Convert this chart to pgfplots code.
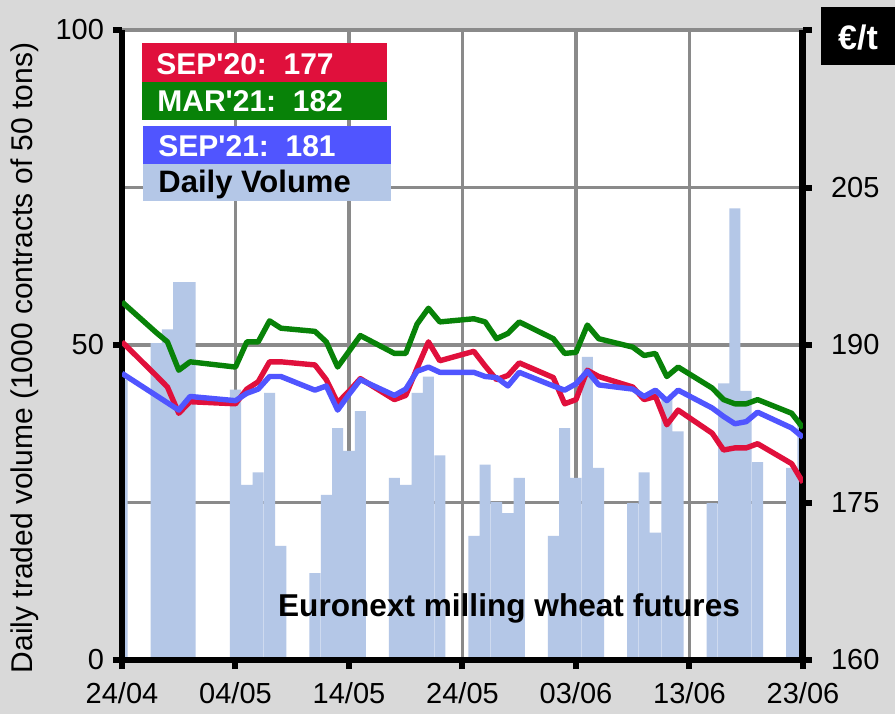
\documentclass[border=0pt]{standalone}
\usepackage{pgfplots}
\pgfplotsset{compat=1.18}
\usepackage{fontspec}
\setmainfont{Liberation Sans}
\definecolor{bg}{HTML}{D9D9D9}
\definecolor{gridgray}{HTML}{8A8A8A}
\definecolor{barblue}{HTML}{B4C7E7}
\definecolor{sred}{HTML}{E0103C}
\definecolor{sgreen}{HTML}{088208}
\definecolor{sblue}{HTML}{5055FF}

\pgfplotstableread{
d v
0 44.5
3 50.3
4 52.5
5 60.0
6 60.0
10 42.9
11 27.8
12 29.8
13 42.4
14 18.1
17 13.8
18 26.2
19 36.8
20 33.2
21 39.5
24 28.9
25 27.8
26 42.4
27 45.0
28 32.5
31 19.7
32 31.0
33 25.1
34 23.3
35 28.9
38 19.7
39 36.8
40 28.9
41 48.1
42 30.5
45 24.9
46 29.8
47 20.2
48 41.5
49 36.3
52 24.9
53 43.9
54 71.7
55 42.7
56 31.4
59 30.5
60 38.6
}\volume

\pgfplotstableread{
d red green blue
0 190.3 194.1 187.3
3 187.1 191.2 185.2
4 186.0 190.3 184.5
5 183.5 187.6 183.8
6 184.6 188.4 185.1
10 184.4 187.9 184.7
11 185.8 190.3 185.4
12 186.5 190.3 185.8
13 188.4 192.3 187.0
14 188.4 191.6 187.0
17 188.1 191.3 185.7
18 186.7 190.3 186.1
19 184.5 187.9 183.8
20 185.6 189.4 185.3
21 186.8 190.9 186.7
24 184.8 189.2 185.2
25 185.2 189.2 185.8
26 187.8 192.0 187.5
27 190.3 193.5 187.9
28 188.5 192.2 187.4
31 189.4 192.5 187.4
32 188.0 192.2 187.0
33 186.7 190.6 186.9
34 187.1 191.1 186.1
35 188.3 192.2 187.4
38 186.9 190.6 186.1
39 184.4 189.2 185.7
40 184.8 189.3 186.3
41 187.6 191.9 187.5
42 187.0 190.6 186.2
45 186.0 189.8 185.8
46 184.8 189.0 185.1
47 185.1 189.2 185.7
48 182.4 187.0 184.7
49 183.8 187.9 185.7
52 181.6 185.9 184.0
53 180.0 184.8 183.2
54 180.2 184.4 182.5
55 180.2 184.4 182.7
56 180.6 184.8 183.6
59 178.7 183.5 182.1
60 176.9 182.1 181.2
}\prices

\begin{document}
\begin{tikzpicture}
\fill[bg] (0,0) rectangle (447.5pt,357pt);

% grid axis
\begin{axis}[at={(61pt,27pt)}, anchor=south west, scale only axis,
  width=340.5pt, height=315pt,
  xmin=0, xmax=60, ymin=160, ymax=220,
  xtick={0,10,...,60}, ytick={160,175,...,220},
  xticklabels={}, yticklabels={},
  major tick length=0pt,
  grid=major, major grid style={draw=gridgray, line width=1.6pt},
  axis line style={draw=none},
  axis background/.style={fill=white}]
\end{axis}

% volume axis
\begin{axis}[at={(61pt,27pt)}, anchor=south west, scale only axis,
  width=340.5pt, height=315pt,
  xmin=0, xmax=60, ymin=0, ymax=100,
  axis x line*=bottom, axis y line*=left,
  every outer x axis line/.append style={line width=3pt, black, -},
  every outer y axis line/.append style={line width=3pt, black, -},
  axis on top,
  xtick={0,10,...,60},
  xticklabels={24/04,04/05,14/05,24/05,03/06,13/06,23/06},
  ytick={0,50,100},
  tick align=outside, major tick length=4.5pt,
  every tick/.append style={line width=3pt, black},
  major tick style={line width=3pt, black},
  /pgf/number format/assume math mode=true,
  tick label style={font=\fontsize{14.5}{16}\selectfont},
  xticklabel style={yshift=-3pt},
  yticklabel style={xshift=-1pt}]
\addplot[ybar, bar width=0.97, fill=barblue, draw=none] table[x=d, y=v] {\volume};
\end{axis}

% price axis
\begin{axis}[at={(61pt,27pt)}, anchor=south west, scale only axis,
  width=340.5pt, height=315pt,
  xmin=0, xmax=60, ymin=160, ymax=220,
  axis x line=none, axis y line*=right,
  every outer y axis line/.append style={line width=3.5pt, black, -},
  ytick={160,175,...,220},
  yticklabels={160,175,190,205,{}},
  tick align=outside, major tick length=4.5pt,
  every tick/.append style={line width=3pt, black},
  major tick style={line width=3pt, black},
  /pgf/number format/assume math mode=true,
  tick label style={font=\fontsize{14.5}{16}\selectfont},
  yticklabel style={xshift=6pt}]
\addplot[sred, line width=2.7pt, line join=round] table[x=d, y=red] {\prices};
\addplot[sgreen, line width=2.7pt, line join=round] table[x=d, y=green] {\prices};
\addplot[sblue, line width=2.7pt, line join=round] table[x=d, y=blue] {\prices};
\end{axis}

% y label
\node[rotate=90, font=\fontsize{15}{18}\selectfont] at (12.5pt,178pt)
  {Daily traded volume (1000 contracts of 50 tons)};

% legend boxes
\fill[sred] (71pt,316pt) rectangle (193.5pt,335.5pt);
\fill[sgreen] (71pt,297pt) rectangle (193.5pt,316pt);
\fill[sblue] (71.5pt,275pt) rectangle (195.5pt,294pt);
\fill[barblue] (71.5pt,256.5pt) rectangle (195.5pt,275pt);
\node[anchor=base west, inner sep=0pt, text=white, font=\bfseries\fontsize{15}{18}\selectfont] at (78pt,319.5pt) {SEP\textquotesingle20:\ \ 177};
\node[anchor=base west, inner sep=0pt, text=white, font=\bfseries\fontsize{15}{18}\selectfont] at (78.5pt,301pt) {MAR\textquotesingle21:\ \ 182};
\node[anchor=base west, inner sep=0pt, text=white, font=\bfseries\fontsize{15}{18}\selectfont] at (79pt,278.7pt) {SEP\textquotesingle21:\ \ 181};
\node[anchor=base west, inner sep=0pt, text=black, font=\bfseries\fontsize{15.5}{18}\selectfont] at (79pt,260.7pt) {Daily Volume};

% euro box
\fill[black] (410.5pt,324.5pt) rectangle (447.5pt,353.5pt);
\node[anchor=base, inner sep=0pt, text=white, font=\bfseries\fontsize{17}{20}\selectfont] at (429pt,332pt) {€/t};

% title
\node[anchor=base, inner sep=0pt, font=\bfseries\fontsize{15.8}{18}\selectfont] at (254.5pt,49pt) {Euronext milling wheat futures};

\pgfresetboundingbox
\useasboundingbox (0,0) rectangle (447.5pt,357pt);
\end{tikzpicture}
\end{document}
